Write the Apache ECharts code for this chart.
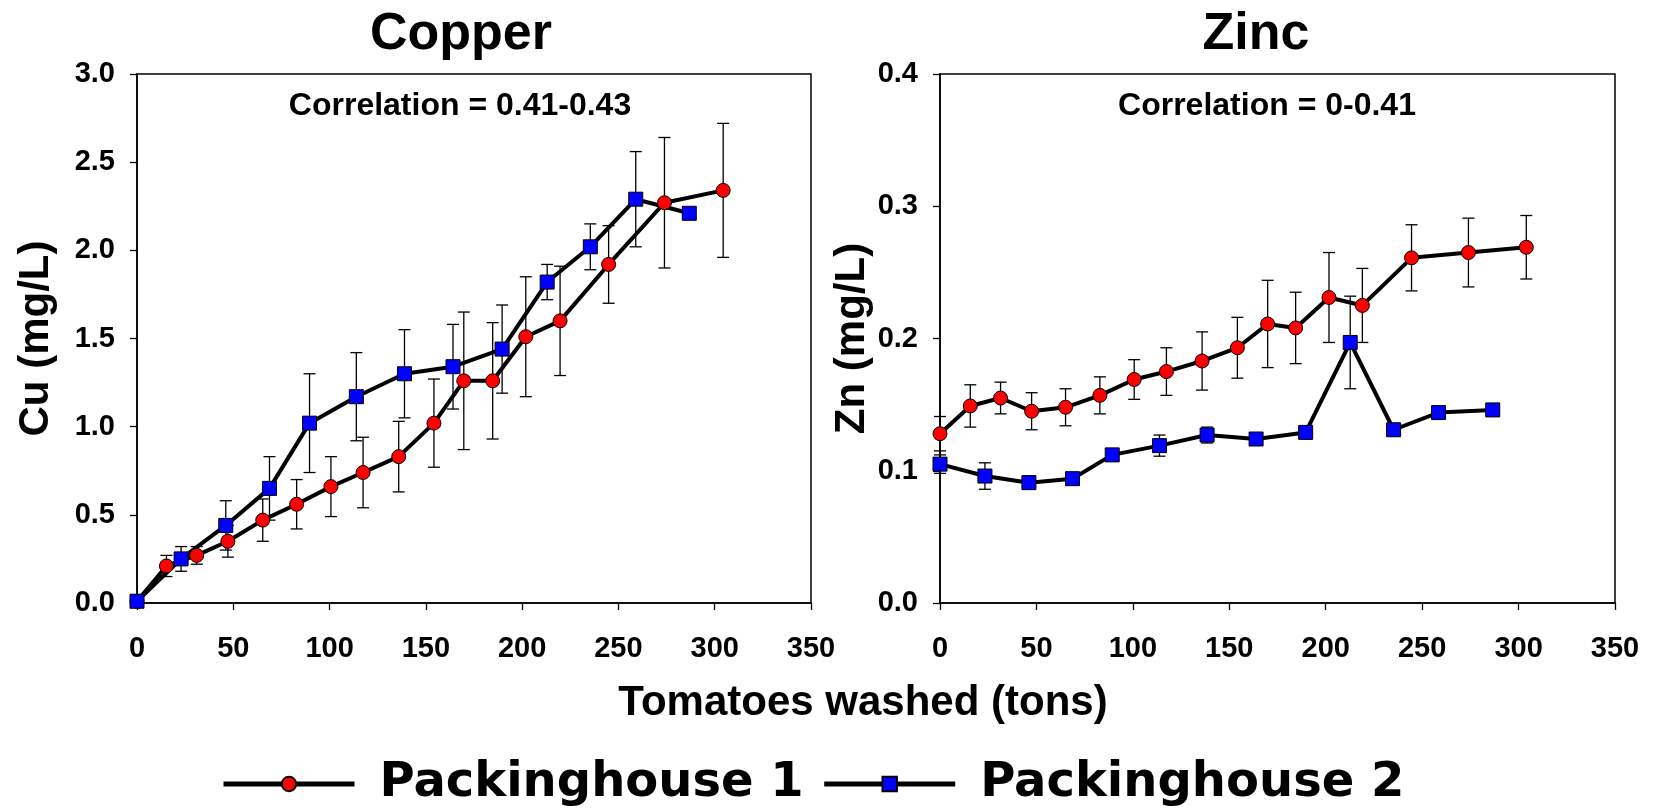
<!DOCTYPE html>
<html>
<head>
<meta charset="utf-8">
<script src="https://cdn.jsdelivr.net/npm/echarts@6/dist/echarts.min.js"></script>
<style>
  html, body { margin: 0; padding: 0; background: #fff; }
  #chart { width: 1655px; height: 809px; }
</style>
</head>
<body>
<div id="chart"></div>
<script>
// Copper, packinghouse 1 / 2 (tons washed, mg/L, +/- error)
var cuX1 = [0, 15.3, 31, 47.2, 65.3, 82.9, 100.7, 117.4, 135.9, 154.2, 169.7, 184.7, 201.9, 219.7, 244.9, 273.9, 304.4];
var cuY1 = [0.01, 0.21, 0.27, 0.35, 0.47, 0.56, 0.66, 0.74, 0.83, 1.02, 1.26, 1.26, 1.51, 1.60, 1.92, 2.27, 2.34];
var cuE1 = [0, 0.06, 0.05, 0.09, 0.12, 0.14, 0.17, 0.2, 0.2, 0.25, 0.39, 0.33, 0.34, 0.31, 0.22, 0.37, 0.38];
var cuX2 = [0, 22.9, 46.1, 68.8, 89.6, 113.9, 138.9, 164.1, 189.6, 213, 235.4, 259, 286.8];
var cuY2 = [0.01, 0.25, 0.44, 0.65, 1.02, 1.17, 1.30, 1.34, 1.44, 1.82, 2.02, 2.29, 2.21];
var cuE2 = [0, 0.07, 0.14, 0.18, 0.28, 0.25, 0.25, 0.24, 0.25, 0.1, 0.13, 0.27, 0];

// Zinc
var znX1 = [0, 15.7, 31.4, 47.5, 65.1, 82.9, 100.7, 117.4, 135.9, 154.2, 169.9, 184.4, 201.7, 219, 244.5, 274, 304];
var znY1 = [0.128, 0.149, 0.155, 0.145, 0.148, 0.157, 0.169, 0.175, 0.183, 0.193, 0.211, 0.208, 0.231, 0.225, 0.261, 0.265, 0.269];
var znE1 = [0.013, 0.016, 0.012, 0.014, 0.014, 0.014, 0.015, 0.018, 0.022, 0.023, 0.033, 0.027, 0.034, 0.028, 0.025, 0.026, 0.024];
var znX2 = [0, 23.3, 46.1, 68.7, 89.3, 113.8, 138.5, 163.9, 189.6, 212.7, 235.2, 258.5, 286.6];
var znY2 = [0.105, 0.096, 0.091, 0.094, 0.112, 0.119, 0.127, 0.124, 0.129, 0.197, 0.131, 0.144, 0.146];
var znE2 = [0.007, 0.01, 0.005, 0, 0, 0.008, 0.006, 0, 0, 0.035, 0, 0.003, 0];

var seriesNames = ['Packinghouse 1', 'Packinghouse 2'];
var FONT = 'Liberation Sans, Arial, sans-serif';

function pts(xs, ys) {
  return xs.map(function (x, i) { return [x, ys[i]]; });
}
function errPts(xs, ys, es) {
  return xs.map(function (x, i) { return [x, ys[i] - es[i], ys[i] + es[i]]; });
}

// error bar: vertical line + caps
function renderErr(params, api) {
  var lo = api.value(1), hi = api.value(2);
  if (hi - lo <= 0) return null;
  var p1 = api.coord([api.value(0), hi]);
  var p2 = api.coord([api.value(0), lo]);
  var w = 6;
  var st = { stroke: '#000', lineWidth: 1.3 };
  return {
    type: 'group',
    children: [
      { type: 'line', shape: { x1: p1[0], y1: p1[1], x2: p2[0], y2: p2[1] }, style: st },
      { type: 'line', shape: { x1: p1[0] - w, y1: p1[1], x2: p1[0] + w, y2: p1[1] }, style: st },
      { type: 'line', shape: { x1: p2[0] - w, y1: p2[1], x2: p2[0] + w, y2: p2[1] }, style: st }
    ]
  };
}

function xAx(idx) {
  return {
    type: 'value', gridIndex: idx, min: 0, max: 350, interval: 50,
    axisLine: { lineStyle: { color: '#000', width: 1.5 } },
    axisTick: { length: 7, lineStyle: { color: '#000', width: 1.3 } },
    axisLabel: { color: '#000', fontFamily: FONT, fontWeight: 'bold', fontSize: 29, margin: 31 },
    splitLine: { show: false }
  };
}
function yAx(idx, max, step, name, gap) {
  return {
    type: 'value', gridIndex: idx, min: 0, max: max, interval: step,
    name: name, nameLocation: 'middle', nameGap: gap,
    nameTextStyle: { color: '#000', fontFamily: FONT, fontWeight: 'bold', fontSize: 42 },
    axisLine: { show: true, lineStyle: { color: '#000', width: 1.5 } },
    axisTick: { show: true, length: 7, lineStyle: { color: '#000', width: 1.3 } },
    axisLabel: { color: '#000', fontFamily: FONT, fontWeight: 'bold', fontSize: 29, margin: 22,
      formatter: function (v) { return v.toFixed(1); } },
    splitLine: { show: false }
  };
}
function lineSeries(name, idx, data, sym, color) {
  return {
    name: name, type: 'line', xAxisIndex: idx, yAxisIndex: idx, data: data,
    symbol: sym, symbolSize: 14, z: 3,
    lineStyle: { color: '#000', width: 4 },
    itemStyle: { color: color, borderColor: '#000', borderWidth: 1 }
  };
}
function errSeries(idx, data) {
  return {
    name: 'err', type: 'custom', xAxisIndex: idx, yAxisIndex: idx,
    renderItem: renderErr, data: data, z: 2, silent: true
  };
}

var titleStyle = { color: '#000', fontFamily: FONT, fontWeight: 'bold', fontSize: 52 };
var corrStyle = { color: '#000', fontFamily: FONT, fontWeight: 'bold', fontSize: 32 };

var option = {
  animation: false,
  backgroundColor: '#fff',
  title: [
    { text: 'Copper', left: 456, top: 4, textAlign: 'center', textStyle: titleStyle },
    { text: 'Zinc', left: 1251, top: 4, textAlign: 'center', textStyle: titleStyle },
    { text: 'Correlation = 0.41-0.43', left: 455, top: 85, textAlign: 'center', textStyle: corrStyle },
    { text: 'Correlation = 0-0.41', left: 1262, top: 85, textAlign: 'center', textStyle: corrStyle },
    { text: 'Tomatoes washed (tons)', left: 858, top: 677, textAlign: 'center',
      textStyle: { color: '#000', fontFamily: FONT, fontWeight: 'bold', fontSize: 42 } }
  ],
  legend: {
    data: seriesNames,
    left: 216, top: 755,
    itemWidth: 131, itemHeight: 18, itemGap: 18,
    lineStyle: { color: '#000', width: 5 },
    textStyle: { color: '#000', fontFamily: 'DejaVu Sans, sans-serif', fontWeight: 'bold', fontSize: 48,
      padding: [0, 0, 0, 20] }
  },
  grid: [
    { left: 137, top: 74, width: 674, height: 529, show: true, borderColor: '#000', borderWidth: 1.5 },
    { left: 940, top: 74, width: 675, height: 529, show: true, borderColor: '#000', borderWidth: 1.5 }
  ],
  xAxis: [xAx(0), xAx(1)],
  yAxis: [yAx(0, 3, 0.5, 'Cu (mg/L)', 80), yAx(1, 0.4, 0.1, 'Zn (mg/L)', 51)],
  series: [
    errSeries(0, errPts(cuX1, cuY1, cuE1)),
    errSeries(0, errPts(cuX2, cuY2, cuE2)),
    lineSeries(seriesNames[0], 0, pts(cuX1, cuY1), 'circle', '#ff0000'),
    lineSeries(seriesNames[1], 0, pts(cuX2, cuY2), 'rect', '#0000ff'),
    errSeries(1, errPts(znX1, znY1, znE1)),
    errSeries(1, errPts(znX2, znY2, znE2)),
    lineSeries(seriesNames[0], 1, pts(znX1, znY1), 'circle', '#ff0000'),
    lineSeries(seriesNames[1], 1, pts(znX2, znY2), 'rect', '#0000ff')
  ]
};

var chart = echarts.init(document.getElementById('chart'));
chart.setOption(option);
</script>
</body>
</html>
